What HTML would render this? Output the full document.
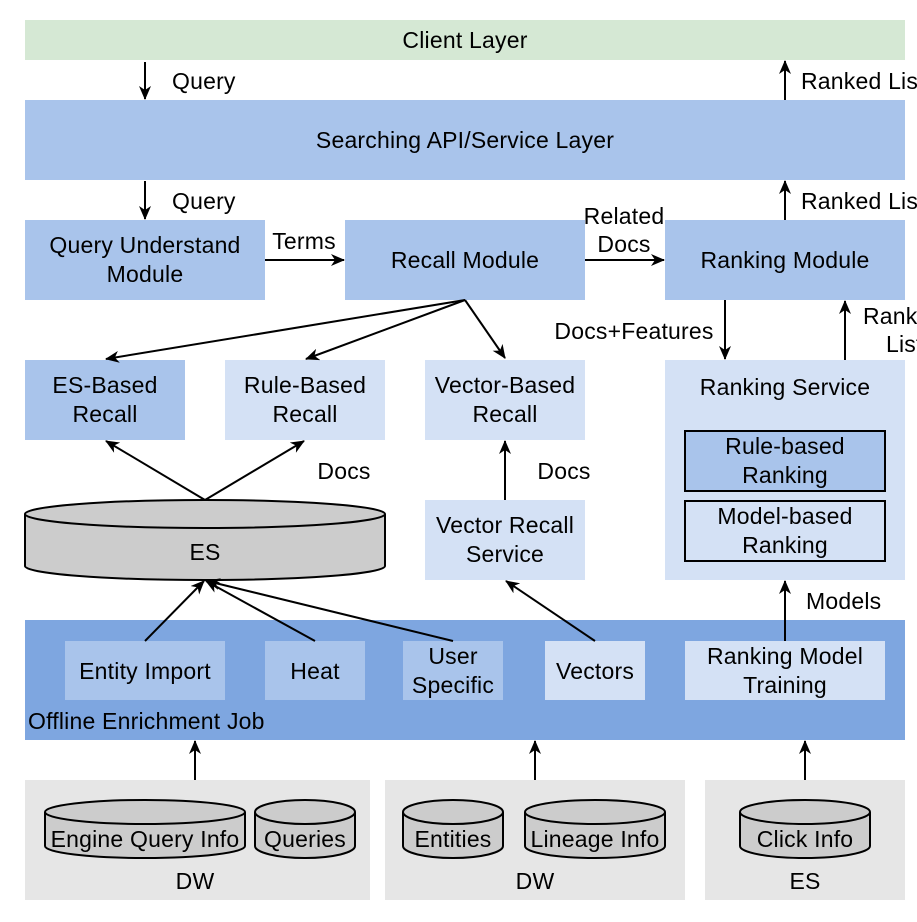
<!DOCTYPE html>
<html><head><meta charset="utf-8"><style>
html,body{margin:0;padding:0;background:#fff;overflow:hidden;}
svg{display:block;font-family:"Liberation Sans",sans-serif;font-size:23px;letter-spacing:0.2px;}
</style></head><body>
<svg width="917" height="922" viewBox="0 0 917 922" xmlns="http://www.w3.org/2000/svg">
<defs>
<marker id="a" viewBox="0 0 14 12" refX="13" refY="6" markerWidth="14" markerHeight="12" markerUnits="userSpaceOnUse" orient="auto">
<path d="M0,0 L14,6 L0,12 L4,6 z" fill="#000"/></marker>
</defs>
<g text-anchor="middle" fill="#000">
<rect x="25" y="20" width="880" height="40" fill="#d5e8d4"/>
<text x="465" y="48">Client Layer</text>
<rect x="25" y="100" width="880" height="80" fill="#a9c4eb"/>
<text x="465" y="148">Searching API/Service Layer</text>
<rect x="25" y="220" width="240" height="80" fill="#a9c4eb"/>
<text x="145" y="253">Query Understand</text><text x="145" y="282">Module</text>
<rect x="345" y="220" width="240" height="80" fill="#a9c4eb"/>
<text x="465" y="268">Recall Module</text>
<rect x="665" y="220" width="240" height="80" fill="#a9c4eb"/>
<text x="785" y="268">Ranking Module</text>
<rect x="25" y="360" width="160" height="80" fill="#a9c4eb"/>
<text x="105" y="393">ES-Based</text><text x="105" y="422">Recall</text>
<rect x="225" y="360" width="160" height="80" fill="#d4e1f5"/>
<text x="305" y="393">Rule-Based</text><text x="305" y="422">Recall</text>
<rect x="425" y="360" width="160" height="80" fill="#d4e1f5"/>
<text x="505" y="393">Vector-Based</text><text x="505" y="422">Recall</text>
<rect x="665" y="360" width="240" height="220" fill="#d4e1f5"/>
<text x="785" y="395">Ranking Service</text>
<rect x="685" y="431" width="200" height="60" fill="#a9c4eb" stroke="#000" stroke-width="2"/>
<text x="785" y="454">Rule-based</text><text x="785" y="483">Ranking</text>
<rect x="685" y="501" width="200" height="60" fill="#d4e1f5" stroke="#000" stroke-width="2"/>
<text x="785" y="524">Model-based</text><text x="785" y="553">Ranking</text>
<path d="M25,514 A180,14 0 0 1 385,514 L385,566 A180,14 0 0 1 25,566 Z" fill="#cccccc" stroke="#000" stroke-width="2"/>
<path d="M25,514 A180,14 0 0 0 385,514" fill="none" stroke="#000" stroke-width="2"/>
<text x="205" y="560">ES</text>
<rect x="425" y="500" width="160" height="80" fill="#d4e1f5"/>
<text x="505" y="533">Vector Recall</text><text x="505" y="562">Service</text>
<rect x="25" y="620" width="880" height="120" fill="#7ea6e0"/>
<rect x="65" y="641" width="160" height="59" fill="#a9c4eb"/>
<text x="145" y="679">Entity Import</text>
<rect x="265" y="641" width="100" height="59" fill="#a9c4eb"/>
<text x="315" y="679">Heat</text>
<rect x="403" y="641" width="100" height="59" fill="#a9c4eb"/>
<text x="453" y="664">User</text><text x="453" y="693">Specific</text>
<rect x="545" y="641" width="100" height="59" fill="#d4e1f5"/>
<text x="595" y="679">Vectors</text>
<rect x="685" y="641" width="200" height="59" fill="#d4e1f5"/>
<text x="785" y="664">Ranking Model</text><text x="785" y="693">Training</text>
<text x="28" y="729" text-anchor="start">Offline Enrichment Job</text>
<rect x="25" y="780" width="345" height="120" fill="#e6e6e6"/>
<rect x="385" y="780" width="300" height="120" fill="#e6e6e6"/>
<rect x="705" y="780" width="200" height="120" fill="#e6e6e6"/>
<g fill="#cccccc" stroke="#000" stroke-width="2">
<path d="M45,812 A100,12 0 0 1 245,812 L245,846 A100,12 0 0 1 45,846 Z"/><path d="M45,812 A100,12 0 0 0 245,812" fill="none"/>
<path d="M255,812 A50,12 0 0 1 355,812 L355,846 A50,12 0 0 1 255,846 Z"/><path d="M255,812 A50,12 0 0 0 355,812" fill="none"/>
<path d="M403,812 A50,12 0 0 1 503,812 L503,846 A50,12 0 0 1 403,846 Z"/><path d="M403,812 A50,12 0 0 0 503,812" fill="none"/>
<path d="M525,812 A70,12 0 0 1 665,812 L665,846 A70,12 0 0 1 525,846 Z"/><path d="M525,812 A70,12 0 0 0 665,812" fill="none"/>
<path d="M740,812 A65,12 0 0 1 870,812 L870,846 A65,12 0 0 1 740,846 Z"/><path d="M740,812 A65,12 0 0 0 870,812" fill="none"/>
</g>
<text x="145" y="847">Engine Query Info</text>
<text x="305" y="847">Queries</text>
<text x="453" y="847">Entities</text>
<text x="595" y="847">Lineage Info</text>
<text x="805" y="847">Click Info</text>
<text x="195" y="889">DW</text><text x="535" y="889">DW</text><text x="805" y="889">ES</text>
</g>
<g stroke="#000" stroke-width="2" fill="none" marker-end="url(#a)">
<line x1="145" y1="62" x2="145" y2="99"/>
<line x1="785" y1="100" x2="785" y2="61"/>
<line x1="145" y1="181" x2="145" y2="219"/>
<line x1="785" y1="220" x2="785" y2="181"/>
<line x1="265" y1="260" x2="344" y2="260"/>
<line x1="585" y1="260" x2="664" y2="260"/>
<line x1="465" y1="300" x2="106" y2="359"/>
<line x1="465" y1="300" x2="306" y2="359"/>
<line x1="465" y1="300" x2="505" y2="358"/>
<line x1="725" y1="300" x2="725" y2="359"/>
<line x1="845" y1="360" x2="845" y2="301"/>
<line x1="205" y1="500" x2="106" y2="441"/>
<line x1="205" y1="500" x2="304" y2="441"/>
<line x1="505" y1="500" x2="505" y2="441"/>
<line x1="145" y1="641" x2="204" y2="581"/>
<line x1="315" y1="641" x2="206" y2="581"/>
<line x1="453" y1="641" x2="207" y2="581"/>
<line x1="595" y1="641" x2="506" y2="581"/>
<line x1="785" y1="641" x2="785" y2="581"/>
<line x1="195" y1="780" x2="195" y2="741"/>
<line x1="535" y1="780" x2="535" y2="741"/>
<line x1="805" y1="780" x2="805" y2="741"/>
</g>
<g fill="#000">
<text x="172" y="89">Query</text>
<text x="801" y="89">Ranked List</text>
<text x="172" y="209">Query</text>
<text x="801" y="209">Ranked List</text>
<text x="304" y="249" text-anchor="middle">Terms</text>
<text x="624" y="224" text-anchor="middle">Related</text>
<text x="624" y="252" text-anchor="middle">Docs</text>
<text x="634" y="339" text-anchor="middle">Docs+Features</text>
<text x="863" y="324">Ranked</text>
<text x="886" y="352">List</text>
<text x="344" y="479" text-anchor="middle">Docs</text>
<text x="564" y="479" text-anchor="middle">Docs</text>
<text x="806" y="609">Models</text>
</g>
</svg>
</body></html>
